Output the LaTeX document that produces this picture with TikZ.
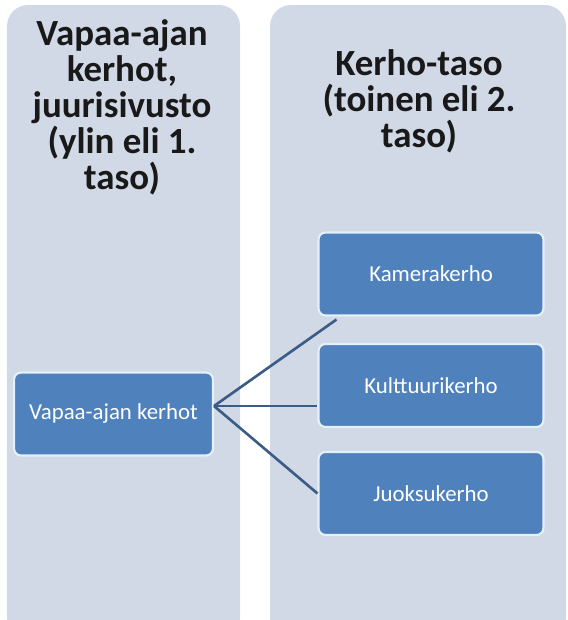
\documentclass[tikz,border=0pt]{standalone}
\usepackage{fontspec}
\setmainfont{Carlito}
\usetikzlibrary{positioning}
\definecolor{panelgray}{RGB}{209,216,230}
\definecolor{boxblue}{RGB}{79,129,189}
\definecolor{boxedge}{RGB}{228,240,250}
\definecolor{linkblue}{RGB}{60,92,136}
\tikzset{
  box/.style={draw=boxedge,line width=1.2pt,fill=boxblue,rounded corners=4pt,
    text=white,font=\fontsize{13}{15}\selectfont,minimum width=4.5cm,minimum height=1.66cm},
  title/.style={align=center,text=black!90,font=\bfseries\fontsize{21}{20.5}\selectfont},
  link/.style={draw=linkblue,line width=1.5pt}
}

\begin{document}
\begin{tikzpicture}[x=0.02cm,y=-0.02cm]
      \useasboundingbox (0,0) rectangle (568,620);
      \clip (0,0) rectangle (568,620);
      \fill[panelgray,rounded corners=12pt] (7,5) rectangle (240,640);
      \fill[panelgray,rounded corners=12pt] (270,5) rectangle (566,640);

      \node[title] (t1) at (122,107) {Vapaa-ajan\\kerhot,\\juurisivusto\\(ylin eli 1.\\taso)};
      \node[title] (t2) at (419,101) {Kerho-taso\\(toinen eli 2.\\taso)};

      \node[box,minimum width=3.98cm] (1) at (113.5,414) {Vapaa-ajan kerhot};
      \node[box] (2) at (431,274) {Kamerakerho};
      \node[box,below of=2,yshift=-1.23cm] (3) {Kulttuurikerho};
      \node[box,below of=3,yshift=-1.16cm] (4) {Juoksukerho};

      \coordinate (hub) at ([yshift=0.16cm]1.east);
      \coordinate (k) at ([xshift=0.38cm,yshift=-0.06cm]2.south west);
      \draw[link] (hub) -- (k);
      \draw[link] (hub) -- (hub -| 3.west);
      \draw[link] (hub) -- (4.west);
    \end{tikzpicture}
\end{document}
